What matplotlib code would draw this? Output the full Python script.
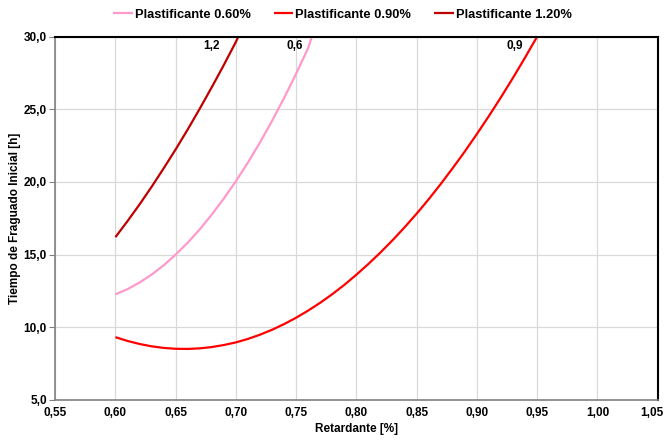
import matplotlib
matplotlib.use("Agg")
import matplotlib.pyplot as plt
from matplotlib.ticker import FuncFormatter, MultipleLocator

plt.rcParams['font.family'] = ['Liberation Sans', 'DejaVu Sans']
plt.rcParams['font.weight'] = 'bold'

# Plastificante 0.60%
x_06 = [0.60, 0.61, 0.62, 0.63, 0.64, 0.65, 0.66, 0.67, 0.68, 0.69,
        0.70, 0.71, 0.72, 0.73, 0.74, 0.75, 0.76, 0.763]
y_06 = [12.26, 12.62, 13.08, 13.62, 14.26, 15.0, 15.82, 16.74, 17.76, 18.86,
        20.05, 21.34, 22.72, 24.2, 25.78, 27.45, 29.22, 30.0]

# Plastificante 0.90%
x_09 = [0.60, 0.61, 0.62, 0.63, 0.64, 0.65, 0.66, 0.67, 0.68, 0.69,
        0.70, 0.71, 0.72, 0.73, 0.74, 0.75, 0.76, 0.77, 0.78, 0.79,
        0.80, 0.81, 0.82, 0.83, 0.84, 0.85, 0.86, 0.87, 0.88, 0.89,
        0.90, 0.91, 0.92, 0.93, 0.94, 0.95]
y_09 = [9.32, 9.06, 8.85, 8.69, 8.58, 8.52, 8.51, 8.55, 8.64, 8.78,
        8.96, 9.2, 9.49, 9.83, 10.22, 10.66, 11.15, 11.69, 12.28, 12.92,
        13.62, 14.36, 15.15, 15.99, 16.88, 17.82, 18.81, 19.86, 20.96, 22.1,
        23.3, 24.54, 25.83, 27.17, 28.56, 30.0]

# Plastificante 1.20%
x_12 = [0.60, 0.61, 0.62, 0.63, 0.64, 0.65, 0.66, 0.67, 0.68, 0.69,
        0.70, 0.702]
y_12 = [16.2, 17.3, 18.45, 19.66, 20.93, 22.24, 23.61, 25.04, 26.52, 28.05,
        29.64, 30.0]

series = [
    (x_06, y_06, 'Plastificante 0.60%', '#FF99CC', '0,6', 0.7486),
    (x_09, y_09, 'Plastificante 0.90%', '#FF0000', '0,9', 0.931),
    (x_12, y_12, 'Plastificante 1.20%', '#C00000', '1,2', 0.680),
]

X_MAX = 1.05

fig = plt.figure(figsize=(6.65, 4.4), dpi=100)
ax = fig.add_axes([0.083, 0.091, 0.906, 0.826])

for xs, ys, name, col, lab, lx in series:
    ax.plot(xs, ys, color=col, lw=1.6, label=name, solid_capstyle='butt')
    ax.text(lx, 29.35, lab, ha='center', va='center', fontsize=8.5,
            fontweight='bold', color='black')

ax.set_xlim(0.55, X_MAX)
ax.set_ylim(5, 30)
ax.xaxis.set_major_locator(MultipleLocator(0.05))
ax.yaxis.set_major_locator(MultipleLocator(5))

def fmt_x(v, p):
    # the last label is drawn by hand so it fits inside the image
    if abs(v - X_MAX) < 1e-6:
        return ''
    return f"{v:.2f}".replace('.', ',')

ax.xaxis.set_major_formatter(FuncFormatter(fmt_x))
ax.yaxis.set_major_formatter(FuncFormatter(lambda v, p: f"{v:.1f}".replace('.', ',')))
ax.grid(True, color='#D9D9D9', lw=0.9)
ax.set_axisbelow(True)

for s in ['left', 'bottom']:
    ax.spines[s].set_color('#808080')
    ax.spines[s].set_linewidth(1.2)
for s in ['top', 'right']:
    ax.spines[s].set_color('black')
    ax.spines[s].set_linewidth(1.5)

ax.tick_params(axis='y', length=4, color='#808080', labelsize=8.5, pad=2)
ax.tick_params(axis='x', length=0, labelsize=8.5, pad=5)
for t in ax.get_xticklabels() + ax.get_yticklabels():
    t.set_fontweight('bold')

ax.annotate(f"{X_MAX:.2f}".replace('.', ','), xy=(X_MAX, 0),
            xycoords=('data', 'axes fraction'), xytext=(4, -5),
            textcoords='offset points', ha='right', va='top',
            fontsize=8.5, fontweight='bold', annotation_clip=False)

ax.set_xlabel('Retardante [%]', fontsize=8.5, fontweight='bold', labelpad=3)
ax.set_ylabel('Tiempo de Fraguado Inicial [h]', fontsize=8.5, fontweight='bold', labelpad=2)

fig.legend(loc='center', bbox_to_anchor=(0.515, 0.966), ncol=3, frameon=False,
           handlelength=1.5, handletextpad=0.15, columnspacing=1.8,
           prop={'weight': 'bold', 'size': 9.3})

fig.savefig('out.png', dpi=100)
